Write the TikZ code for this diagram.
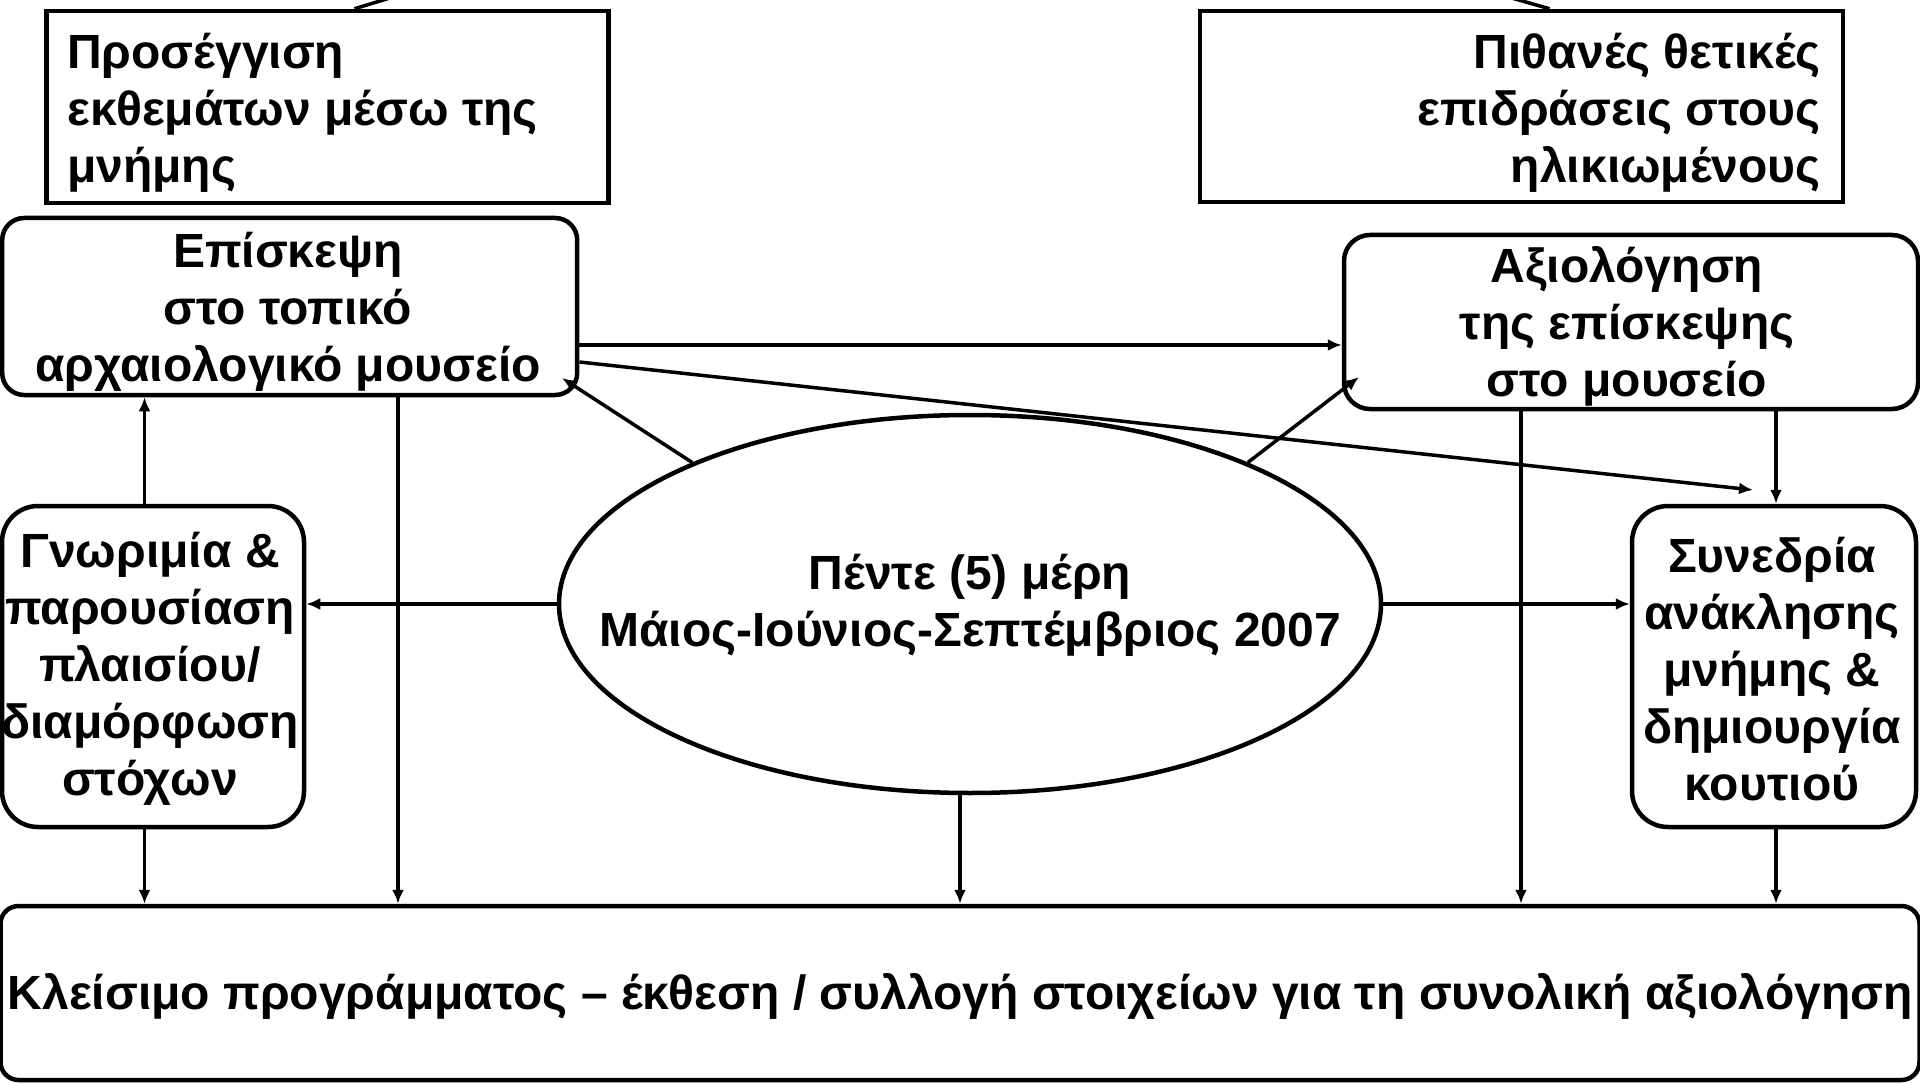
\documentclass[tikz,border=0pt]{standalone}
\usepackage{fontspec}
\setmainfont{Liberation Sans}
\usetikzlibrary{arrows.meta,shapes.geometric}
\begin{document}
\begin{tikzpicture}[x=1pt,y=-1pt,
  sqbox/.style={draw,line width=4.5pt,rectangle,inner sep=0pt},
  rbox/.style={draw,line width=4.5pt,rectangle,rounded corners=#1,inner sep=0pt},
  rbox/.default=22pt,
  txt/.style={font=\fontsize{48}{57}\selectfont\bfseries,align=center,inner sep=0pt},
  arr/.style={-{Latex[length=14pt,width=12pt]},line width=3.5pt},
  plain/.style={line width=3.5pt}]
\clip (0,0) rectangle (1920,1083);
\fill[white] (0,0) rectangle (1920,1083);
% boxes
\node[sqbox,minimum width=562pt,minimum height=192pt] (tl) at (327.5,107) {};
\node[sqbox,minimum width=643pt,minimum height=191pt] (tr) at (1521.5,106.5) {};
\node[rbox,minimum width=575pt,minimum height=177pt] (visit) at (289.7,306.5) {};
\node[rbox=26pt,minimum width=574pt,minimum height=174pt] (eval) at (1631,322) {};
\node[rbox=36pt,minimum width=302pt,minimum height=321pt] (intro) at (153,666.5) {};
\node[rbox=36pt,minimum width=284pt,minimum height=321pt] (sess) at (1774,666.5) {};
\node[draw,ellipse,line width=4.5pt,minimum width=822pt,minimum height=378pt,inner sep=0pt] (ell) at (970,604) {};
\node[rbox=18pt,minimum width=1919pt,minimum height=174pt] (bot) at (960,993) {};
% texts
\node[txt,anchor=west,align=left] (tltxt) at (67,113) {Προσέγγιση\\εκθεμάτων μέσω της\\μνήμης};
\node[txt,anchor=east,align=right] (trtxt) at (1821,113) {Πιθανές θετικές\\επιδράσεις στους\\ηλικιωμένους};
\node[txt] (visittxt) at (288,312) {Επίσκεψη\\στο τοπικό\\αρχαιολογικό μουσείο};
\node[txt] (evaltxt) at (1627,326) {Αξιολόγηση\\της επίσκεψης\\στο μουσείο};
\node[txt] (introtxt) at (150,669) {Γνωριμία \&\\παρουσίαση\\πλαισίου/\\διαμόρφωση\\στόχων};
\node[txt] (sesstxt) at (1772,669) {Συνεδρία\\ανάκλησης\\μνήμης \&\\δημιουργία\\κουτιού};
\node[txt] (elltxt) at (970,605) {Πέντε (5) μέρη\\Μάιος-Ιούνιος-Σεπτέμβριος 2007};
\node[txt] (bottxt) at (960,996) {Κλείσιμο προγράμματος – έκθεση / συλλογή στοιχείων για τη συνολική αξιολόγηση};
% helper coordinates
\coordinate (xa) at (144.5,0);
\coordinate (xb) at (398,0);
\coordinate (xc) at (960,0);
\coordinate (xd) at (1521,0);
\coordinate (xe) at (1776,0);
\coordinate (ya) at (0,345);
\coordinate (yb) at (0,362);
\coordinate (sesstip) at (1753,490);
\coordinate (visittip) at (562,378);
\coordinate (evaltip) at (1359,377);
\coordinate (upl) at (426,-13);
\coordinate (upr) at (1473,-13);
% connectors
\draw[arr] (ell.west) -- (ell.west -| intro.east);
\draw[arr] (ell.east) -- (ell.east -| sess.west);
\draw[arr] (xa |- intro.north) -- (xa |- visit.south);
\draw[arr] (ya -| visit.east) -- (ya -| eval.west);
\draw[arr] (yb -| visit.east) -- (sesstip);
\draw[arr] (ell.153) -- (visittip);
\draw[arr] (ell.27) -- (evaltip);
\draw[arr] (xe |- eval.south) -- (xe |- sess.north);
\draw[arr] (xa |- intro.south) -- (xa |- bot.north);
\draw[arr] (xb |- visit.south) -- (xb |- bot.north);
\draw[arr] (xc |- ell.south) -- (xc |- bot.north);
\draw[arr] (xd |- eval.south) -- (xd |- bot.north);
\draw[arr] (xe |- sess.south) -- (xe |- bot.north);
\draw[plain] ([xshift=27pt]tl.north) -- (upl);
\draw[plain] ([xshift=28pt]tr.north) -- (upr);
\end{tikzpicture}
\end{document}
